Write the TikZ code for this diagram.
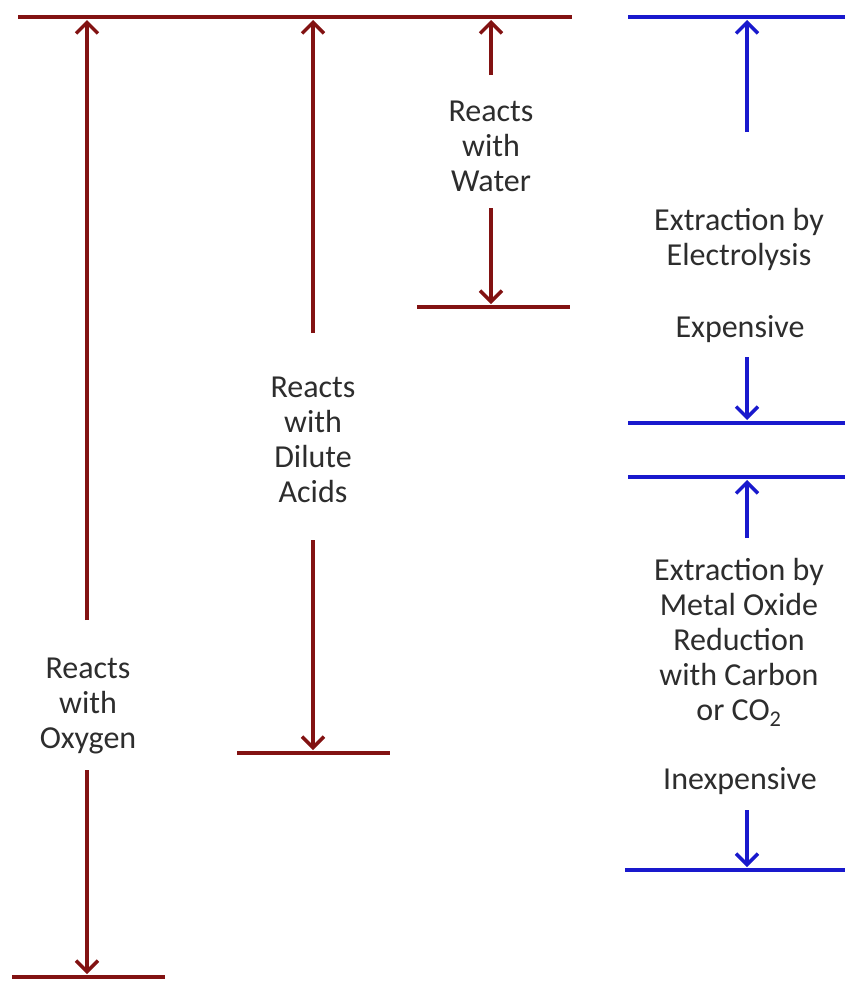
\documentclass[tikz,border=0pt]{standalone}
\usepackage{fontspec}
\setmainfont{Carlito}
\usetikzlibrary{arrows.meta}
\definecolor{maroon}{RGB}{130,18,18}
\definecolor{bblue}{RGB}{25,25,205}
\definecolor{txtgray}{RGB}{45,45,45}
\begin{document}
\begin{tikzpicture}[x=1pt,y=-1pt,
  lbl/.style={align=center,text=txtgray,font=\fontsize{32}{35}\selectfont,inner sep=0pt},
  redbar/.style={draw=maroon,line width=4.5pt},
  bluebar/.style={draw=bblue,line width=4.5pt},
  redarr/.style={draw=maroon,line width=3.5pt,-{Straight Barb[length=11pt,width=22pt]}},
  bluearr/.style={draw=bblue,line width=3.5pt,-{Straight Barb[length=11pt,width=22pt]}}]
\useasboundingbox (0,0) rectangle (845,983);
\fill[white] (0,0) rectangle (845,983);
% red bars
\coordinate (rtL) at (18,17);   \coordinate (rtR) at (572,17);
\coordinate (obL) at (12,977);  \coordinate (obR) at (165,977);
\coordinate (abL) at (237,753); \coordinate (abR) at (390,753);
\coordinate (wbL) at (417,307); \coordinate (wbR) at (570,307);
\draw[redbar] (rtL) -- (rtR);
\draw[redbar] (obL) -- (obR);
\draw[redbar] (abL) -- (abR);
\draw[redbar] (wbL) -- (wbR);
% blue bars
\coordinate (b1L) at (628,17);  \coordinate (b1R) at (845,17);
\coordinate (b2L) at (628,423); \coordinate (b2R) at (845,423);
\coordinate (b3L) at (628,477); \coordinate (b3R) at (845,477);
\coordinate (b4L) at (625,870); \coordinate (b4R) at (845,870);
\draw[bluebar] (b1L) -- (b1R);
\draw[bluebar] (b2L) -- (b2R);
\draw[bluebar] (b3L) -- (b3R);
\draw[bluebar] (b4L) -- (b4R);
% labels
\node[lbl] (oxy) at (88,706) {Reacts\\with\\Oxygen};
\node[lbl] (acid) at (313,440) {Reacts\\with\\Dilute\\Acids};
\node[lbl] (water) at (491,146) {Reacts\\with\\Water};
\node[lbl] (elec) at (739,239) {Extraction by\\Electrolysis};
\node[lbl] (exp) at (740,329) {Expensive};
\node[lbl] (red) at (739,642) {Extraction by\\Metal Oxide\\Reduction\\with Carbon\\or CO\textsubscript{2}};
\node[lbl] (inexp) at (740,781) {Inexpensive};
% arrow coordinates
\coordinate (o1) at (87,620);  \coordinate (o1t) at (87,20);
\coordinate (o2) at (87,770);  \coordinate (o2t) at (87,974);
\coordinate (a1) at (313,333); \coordinate (a1t) at (313,20);
\coordinate (a2) at (313,540); \coordinate (a2t) at (313,750);
\coordinate (w1) at (491,75);  \coordinate (w1t) at (491,20);
\coordinate (w2) at (491,208); \coordinate (w2t) at (491,304);
\coordinate (e1) at (747,132); \coordinate (e1t) at (747,20);
\coordinate (e2) at (747,357); \coordinate (e2t) at (747,420);
\coordinate (m1) at (747,538); \coordinate (m1t) at (747,480);
\coordinate (m2) at (747,810); \coordinate (m2t) at (747,867);
\draw[redarr] (o1) -- (o1t);
\draw[redarr] (o2) -- (o2t);
\draw[redarr] (a1) -- (a1t);
\draw[redarr] (a2) -- (a2t);
\draw[redarr] (w1) -- (w1t);
\draw[redarr] (w2) -- (w2t);
\draw[bluearr] (e1) -- (e1t);
\draw[bluearr] (e2) -- (e2t);
\draw[bluearr] (m1) -- (m1t);
\draw[bluearr] (m2) -- (m2t);
\end{tikzpicture}
\end{document}
